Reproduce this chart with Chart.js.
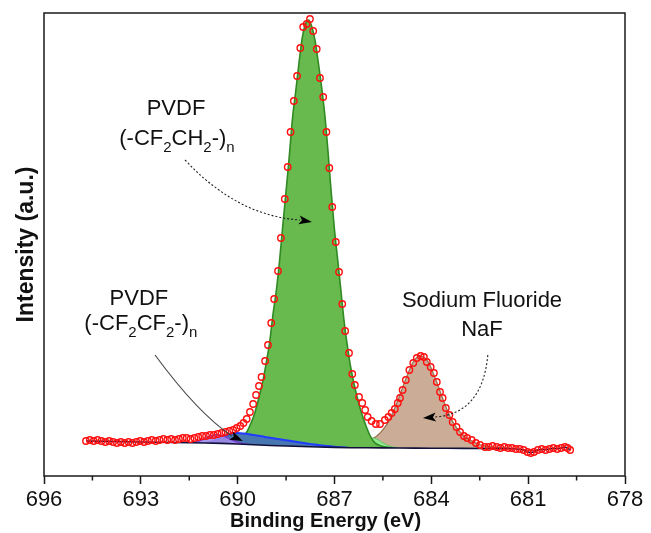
<!DOCTYPE html>
<html><head><meta charset="utf-8">
<script src="https://cdn.jsdelivr.net/npm/chart.js@4.4.1/dist/chart.umd.min.js"></script>
<style>html,body{margin:0;padding:0;background:#fff;}#wrap{width:651px;height:533px;}</style>
</head><body><div id="wrap"><canvas id="c" width="651" height="533"></canvas></div>
<script>
// ---- axis ----
const xTicks = [696, 693, 690, 687, 684, 681, 678];
const xMinorTicks = [694.5, 691.5, 688.5, 685.5, 682.5, 679.5];
const xTitle = 'Binding Energy (eV)';
const yTitle = 'Intensity (a.u.)';

// ---- measured data points (binding energy, intensity) ----
const dataE = [694.70,694.58,694.46,694.34,694.22,694.10,693.98,693.86,693.74,693.62,693.50,693.38,693.26,693.14,693.02,692.90,692.78,692.66,692.54,692.42,692.30,692.18,692.06,691.94,691.82,691.70,691.58,691.46,691.34,691.22,691.10,690.98,690.86,690.74,690.62,690.50,690.38,690.26,690.14,690.03,689.92,689.82,689.72,689.62,689.52,689.43,689.34,689.26,689.15,689.06,688.96,688.87,688.75,688.66,688.54,688.45,688.36,688.26,688.16,688.06,687.97,687.86,687.76,687.66,687.55,687.45,687.35,687.25,687.16,687.07,686.96,686.86,686.76,686.67,686.55,686.45,686.37,686.24,686.14,686.05,685.97,685.85,685.72,685.59,685.44,685.33,685.23,685.13,685.04,684.97,684.89,684.79,684.68,684.56,684.45,684.33,684.23,684.14,684.02,683.92,683.83,683.73,683.65,683.55,683.44,683.34,683.22,683.11,682.99,682.89,682.75,682.62,682.49,682.34,682.22,682.10,681.97,681.86,681.74,681.62,681.50,681.38,681.26,681.14,681.02,680.92,680.82,680.70,680.58,680.46,680.34,680.22,680.10,679.98,679.86,679.78,679.70];
const dataI = [35,36,35,36,35,34,35,34,33,34,33,34,33,34,35,34,35,36,35,36,37,36,37,36,37,38,38,37,38,39,40,40,41,41,42,43,44,45,46,48,50,53,57,64,72,81,90,99,115,131,153,177,205,238,277,309,344,375,400,428,449,452,457,445,427,398,379,344,308,269,234,204,172,145,123,102,91,79,73,66,59,55,52,52,56,59,63,67,73,78,86,96,106,113,118,120,119,114,109,103,94,84,78,68,61,54,49,44,40,38,36,33,31,29,29,30,29,28,29,28,28,27,27,26,24,23,24,26,27,26,27,28,27,28,29,28,26];

// ---- background line ----
const bgE = [694.7,694.0,693.0,692.0,691.0,690.5,690.0,689.5,689.0,688.5,688.0,687.5,687.0,686.5,686.0,685.5,685.0,684.5,684.0,683.5,683.0,682.5,682.0,681.6,681.38,681.26,681.14,681.02,680.92,680.82,680.70,680.58,680.46,680.34,680.22,680.10,679.98,679.86,679.78,679.70];
const bgI = [35.0,34.6,34.0,33.5,33.0,32.6,32.0,31.2,30.5,30.0,29.5,29.0,28.6,28.3,28.2,28.1,28.0,27.9,27.8,27.7,27.6,27.5,27.4,27.5,27.0,26.8,26.0,24.2,23.3,24.2,26.0,26.8,26.2,27.0,27.8,27.2,28.0,28.8,28.0,26.2];

// ---- fitted components (top edge of each filled peak) ----
const pvdfCH2E = [690.4,690.3,690.2,690.1,690.0,689.9,689.8,689.7,689.6,689.5,689.4,689.3,689.2,689.1,689.0,688.9,688.8,688.7,688.6,688.5,688.4,688.3,688.2,688.1,688.0,687.9,687.8,687.7,687.6,687.5,687.4,687.3,687.2,687.1,687.0,686.9,686.8,686.7,686.6,686.5,686.4,686.3,686.2,686.1,686.0,685.9,685.8,685.7,685.6,685.5,685.4,685.3,685.2];
const pvdfCH2I = [32.8,33.1,33.5,34.1,35.0,37.0,40.0,45.0,52.0,60.0,71.0,84.0,98.0,116.0,136.0,163.0,186.0,216.0,251.0,285.0,320.0,358.0,385.0,413.0,438.0,452.0,456.0,449.0,435.0,413.0,389.0,361.0,324.0,283.0,246.0,216.0,185.0,154.0,130.0,109.0,93.0,79.0,67.0,57.0,48.0,40.5,35.0,32.0,30.5,29.5,28.9,28.5,28.2];

const pvdfCF2E = [691.0,690.9,690.8,690.7,690.6,690.5,690.4,690.3,690.2,690.1,690.0,689.9,689.8,689.7,689.6,689.5,689.4,689.3,689.2,689.1,689.0,688.9,688.8,688.7,688.6,688.5,688.4,688.3,688.2,688.1,688.0,687.9,687.8,687.7,687.6,687.5,687.4,687.3,687.2,687.1,687.0,686.9,686.8,686.7,686.6];
const pvdfCF2I = [33.0,33.4,34.3,35.8,37.2,38.6,40.0,41.4,42.2,42.9,43.0,42.8,42.5,42.0,41.6,41.0,40.5,39.9,39.4,38.8,38.3,37.8,37.3,36.8,36.3,35.8,35.3,34.8,34.3,33.8,33.3,32.8,32.3,31.8,31.4,31.0,30.6,30.2,30.0,29.65,29.3,29.0,28.8,28.6,28.4];

const purpleE = [691.4,691.3,691.2,691.1,691.0,690.9,690.8,690.7,690.6,690.5,690.4,690.3,690.2,690.1,690.0,689.9,689.8,689.7];
const purpleI = [33.5,33.95,34.9,36.25,37.8,39.4,40.5,41.2,41.2,40.6,39.5,38.0,36.4,35.0,33.8,32.8,32.2,31.7];

const lightGreenE = [686.6,686.5,686.4,686.3,686.2,686.1,686.0,685.9,685.8,685.7,685.6,685.5,685.4,685.3,685.2,685.1,685.0];
const lightGreenI = [28.6,28.9,29.65,30.8,32.3,34.3,36.2,37.6,38.0,37.1,35.3,33.2,31.4,30.0,29.1,28.55,28.2];

const nafE = [686.6,686.5,686.4,686.3,686.2,686.1,686.0,685.9,685.8,685.7,685.6,685.5,685.4,685.3,685.2,685.1,685.0,684.9,684.8,684.7,684.6,684.5,684.4,684.3,684.2,684.1,684.0,683.9,683.8,683.7,683.6,683.5,683.4,683.3,683.2,683.1,683.0,682.9,682.8,682.7,682.6,682.5,682.4,682.3,682.2,682.1,682.0,681.8,681.6];
const nafI = [29.65,29.95,30.45,31.05,31.8,32.95,34.15,35.7,37.7,39.85,42.65,46.3,50.6,55.9,62.5,70.5,78.7,87.6,96.3,104.3,111.7,116.8,119.6,119.8,118.0,114.1,107.4,99.3,91.0,82.0,73.3,65.3,57.9,52.2,47.5,43.65,40.35,37.9,35.9,34.05,32.65,31.5,30.6,29.85,29.35,28.9,28.55,28.0,27.6];

const pts = (xs, ys) => xs.map((x, i) => ({x: x, y: ys[i]}));
const FONT = '"Liberation Sans", Arial, sans-serif';

function comp(data, fillCol, lineCol, lw, order) {
  return {data: data, backgroundColor: fillCol, borderColor: lineCol, borderWidth: lw, fill: 'origin',
    pointRadius: 0, cubicInterpolationMode: 'monotone', order: order};
}

// annotation helpers
function richText(ctx, parts, cx, by, size) {
  const sub = Math.round(size * 0.68);
  let w = 0;
  parts.forEach(p => { ctx.font = (p[1] ? sub : size) + 'px ' + FONT; w += ctx.measureText(p[0]).width; });
  let x = cx - w / 2;
  ctx.textAlign = 'left'; ctx.textBaseline = 'alphabetic';
  parts.forEach(p => {
    ctx.font = (p[1] ? sub : size) + 'px ' + FONT;
    ctx.fillText(p[0], x, by + (p[1] ? size * 0.3 : 0));
    x += ctx.measureText(p[0]).width;
  });
}
function arrow(ctx, p0, c, p2, tip, dash, col) {
  ctx.save();
  ctx.strokeStyle = col; ctx.lineWidth = 1.1; ctx.setLineDash(dash);
  ctx.beginPath(); ctx.moveTo(p0[0], p0[1]); ctx.quadraticCurveTo(c[0], c[1], p2[0], p2[1]); ctx.stroke();
  ctx.setLineDash([]);
  const dx = tip[0] - p2[0], dy = tip[1] - p2[1], L = Math.hypot(dx, dy);
  const ux = dx / L, uy = dy / L, len = 13, hw = 4.5;
  const bx = tip[0] - ux * len, by = tip[1] - uy * len;
  ctx.fillStyle = '#000';
  ctx.beginPath(); ctx.moveTo(tip[0], tip[1]);
  ctx.lineTo(bx - uy * hw, by + ux * hw); ctx.lineTo(bx + ux * 3, by + uy * 3); ctx.lineTo(bx + uy * hw, by - ux * hw);
  ctx.closePath(); ctx.fill();
  ctx.restore();
}

const deco = {
  id: 'deco',
  afterDraw(chart) {
    const {ctx, chartArea: a, scales: {x, y}} = chart;
    const P = (e, i) => [x.getPixelForValue(e), y.getPixelForValue(i)];
    ctx.save();
    // frame
    ctx.strokeStyle = '#1a1a1a'; ctx.lineWidth = 1.5;
    ctx.strokeRect(a.left, a.top, a.right - a.left, a.bottom - a.top);
    // minor ticks
    ctx.beginPath();
    xMinorTicks.forEach(v => { const px = x.getPixelForValue(v); ctx.moveTo(px, a.bottom); ctx.lineTo(px, a.bottom + 4.5); });
    ctx.stroke();
    // x axis title
    ctx.fillStyle = '#111';
    ctx.font = 'bold 20px ' + FONT; ctx.textAlign = 'center'; ctx.textBaseline = 'middle';
    ctx.fillText(xTitle, (a.left + a.right) / 2 - 9, 521);
    // texts
    let p;
    ctx.textBaseline = 'alphabetic';
    p = P(691.91, 361); ctx.font = '22px ' + FONT; ctx.textAlign = 'center'; ctx.fillText('PVDF', p[0], p[1]);
    p = P(691.88, 331); richText(ctx, [['(-CF'], ['2', 1], ['CH'], ['2', 1], ['-)'], ['n', 1]], p[0], p[1], 22);
    p = P(693.06, 171); ctx.font = '22px ' + FONT; ctx.textAlign = 'center'; ctx.fillText('PVDF', p[0], p[1]);
    p = P(693.0, 146); richText(ctx, [['(-CF'], ['2', 1], ['CF'], ['2', 1], ['-)'], ['n', 1]], p[0], p[1], 22);
    p = P(682.43, 169); ctx.font = '22px ' + FONT; ctx.textAlign = 'center'; ctx.fillText('Sodium Fluoride', p[0], p[1]);
    p = P(682.43, 140); ctx.fillText('NaF', p[0], p[1]);
    // arrows
    arrow(ctx, P(691.63, 316), P(690.01, 260), P(688.07, 256), P(687.70, 254), [2, 2], '#222');
    arrow(ctx, P(692.56, 121), P(691.24, 63), P(690.18, 40), P(689.84, 35), [], '#444');
    arrow(ctx, P(682.25, 121), P(682.42, 62), P(683.89, 59), P(684.26, 58), [2, 2], '#222');
    ctx.restore();
  }
};

new Chart(document.getElementById('c'), {
  type: 'line',
  data: {
    datasets: [
      comp(pts(nafE, nafI), 'rgb(203,172,150)', '#9a7354', 1.3, 10),
      comp(pts(lightGreenE, lightGreenI), 'rgb(144,232,144)', '#63c463', 1.0, 9),
      comp(pts(pvdfCH2E, pvdfCH2I), 'rgb(104,186,78)', '#2f8a22', 1.6, 8),
      comp(pts(pvdfCF2E, pvdfCF2I), 'rgb(72,118,176)', '#1f3cff', 2.0, 7),
      comp(pts(purpleE, purpleI), 'rgba(160,140,232,0.9)', '#7a3fd0', 1.4, 6),
      {data: pts(bgE, bgI), backgroundColor: '#ffffff', borderWidth: 0, fill: 'origin', pointRadius: 0, order: 5},
      {data: pts(bgE, bgI), borderColor: '#10103a', borderWidth: 1.6, fill: false, pointRadius: 0, tension: 0, order: 4},
      {data: pts(dataE, dataI), showLine: false, fill: false, pointRadius: 3.2, pointBorderWidth: 1.4,
       pointBorderColor: '#ff1010', pointBackgroundColor: 'rgba(0,0,0,0)', order: 1}
    ]
  },
  options: {
    responsive: false, animation: false, devicePixelRatio: 1,
    layout: {padding: {left: 0, right: 26, top: 13, bottom: 0}},
    plugins: {legend: {display: false}, tooltip: {enabled: false}},
    scales: {
      x: {
        type: 'linear', reverse: true, min: 678, max: 696,
        afterBuildTicks: s => { s.ticks = xTicks.map(v => ({value: v})); },
        afterFit: s => { s.height = 57; },
        ticks: {font: {family: FONT, size: 22}, color: '#111', padding: 3, maxRotation: 0, autoSkip: false},
        grid: {display: true, drawOnChartArea: false, drawTicks: true, tickLength: 8, tickColor: '#1a1a1a', tickWidth: 1.5},
        border: {display: false},
        title: {display: false, text: xTitle}
      },
      y: {
        min: 0, max: 463,
        afterFit: s => { s.width = 44; },
        ticks: {display: false},
        grid: {display: false, drawTicks: false},
        border: {display: false},
        title: {display: true, text: yTitle, color: '#111', font: {family: FONT, size: 23, weight: 'bold'}, padding: {top: 13, bottom: 0}}
      }
    }
  },
  plugins: [deco]
});
</script>
</body></html>
